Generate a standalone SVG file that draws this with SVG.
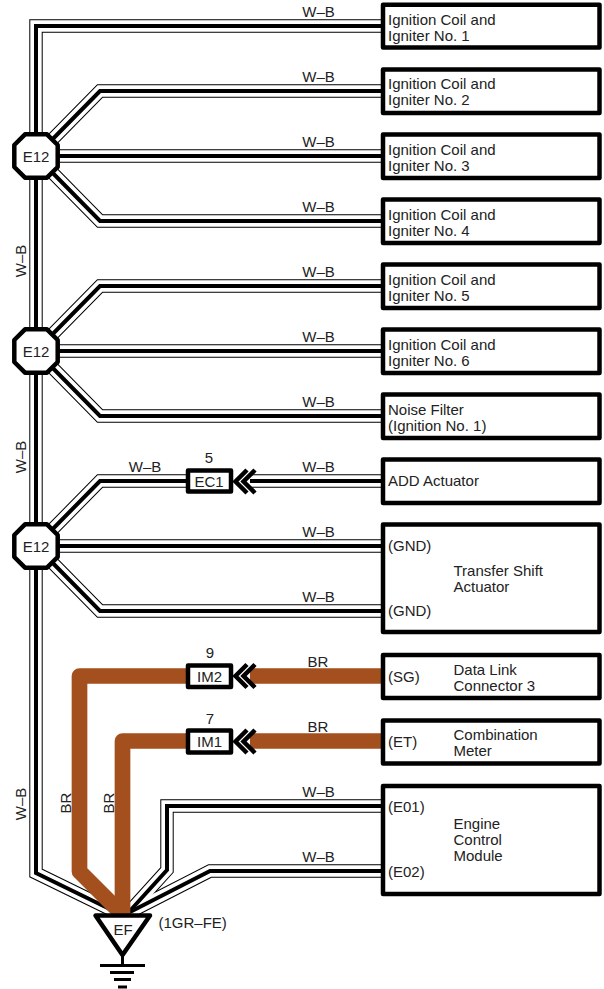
<svg xmlns="http://www.w3.org/2000/svg" width="604" height="989" viewBox="0 0 604 989">
<style>
text{font-family:"Liberation Sans",Arial,sans-serif;font-size:15px;fill:#222}
.m{text-anchor:middle}
.b{fill:#fff;stroke:#000;stroke-width:4.500;stroke-linejoin:round}
.w1{fill:none;stroke:#000;stroke-width:13.400;stroke-linejoin:miter}
.w2{fill:none;stroke:#fff;stroke-width:11.400;stroke-linejoin:miter}
.w3{fill:none;stroke:#000;stroke-width:4;stroke-linejoin:miter}
.br{fill:none;stroke:#a44f1e;stroke-width:15.700;stroke-linejoin:round}
.ch{fill:none;stroke:#000;stroke-width:4.500}
.g{stroke:#000;stroke-width:3;fill:none}
</style>
<defs>
<g id="wires">
<path d="M383 26H36V873L122 915"/>
<path d="M36 156L100 91H383"/>
<path d="M36 156H383"/>
<path d="M36 156L100 221H383"/>
<path d="M36 351L100 286H383"/>
<path d="M36 351H383"/>
<path d="M36 351L100 416H383"/>
<path d="M36 546L100 481H187"/>
<path d="M250 481H383"/>
<path d="M36 546H383"/>
<path d="M36 546L100 611H383"/>
<path d="M383 806H167V870L128 913"/>
<path d="M383 871H210L128 913"/>
</g>
<path id="chev" class="ch" d="M247 -11.500L235.500 0L247 11.500M255 -11.500L243.500 0L255 11.500"/>
<path id="oct" class="b" d="M25 -21.700H47L57.700 -11V11L47 21.700H25L14.300 11V-11Z"/>
</defs>
<g id="connectors">
<use href="#wires" class="w1"/>
<use href="#wires" class="w2"/>
<use href="#wires" class="w3"/>
<path class="br" d="M383 676H250M188 676H79.500V871.500L122 914"/>
<path class="br" d="M383 741H250M188 741H122.500V915"/>
</g>
<g id="labels">
<text class="m" x="318.500" y="17">W–B</text>
<text class="m" x="318.500" y="82">W–B</text>
<text class="m" x="318.500" y="147">W–B</text>
<text class="m" x="318.500" y="212">W–B</text>
<text class="m" x="318.500" y="277">W–B</text>
<text class="m" x="318.500" y="342">W–B</text>
<text class="m" x="318.500" y="407">W–B</text>
<text class="m" x="318.500" y="472">W–B</text>
<text class="m" x="145" y="472">W–B</text>
<text class="m" x="318.500" y="537">W–B</text>
<text class="m" x="318.500" y="602">W–B</text>
<text class="m" x="318" y="667">BR</text>
<text class="m" x="318" y="732">BR</text>
<text class="m" x="318.500" y="797">W–B</text>
<text class="m" x="318.500" y="862">W–B</text>
<text class="m" transform="translate(26 261) rotate(-90)">W–B</text>
<text class="m" transform="translate(26 457) rotate(-90)">W–B</text>
<text class="m" transform="translate(26 804) rotate(-90)">W–B</text>
<text class="m" transform="translate(70.500 803) rotate(-90)">BR</text>
<text class="m" transform="translate(114 803) rotate(-90)">BR</text>
</g>
<g id="e12-1"><use href="#oct" y="156"/><text class="m" x="36" y="161.500">E12</text></g>
<g id="e12-2"><use href="#oct" y="351"/><text class="m" x="36" y="356.500">E12</text></g>
<g id="e12-3"><use href="#oct" y="546"/><text class="m" x="36" y="551.500">E12</text></g>
<g id="ec1"><rect class="b" x="188" y="470.500" width="43" height="21"/><text class="m" x="209" y="486.500">EC1</text><text class="m" x="209" y="463">5</text><use href="#chev" y="481.500"/></g>
<g id="im2"><rect class="b" x="188" y="665.500" width="43" height="21.500"/><text class="m" x="209.500" y="681.500">IM2</text><text class="m" x="210" y="658">9</text><use href="#chev" y="676"/></g>
<g id="im1"><rect class="b" x="188" y="730.500" width="43" height="22"/><text class="m" x="209.500" y="747">IM1</text><text class="m" x="210" y="724">7</text><use href="#chev" y="741.500"/></g>
<g id="box1"><rect class="b" x="383" y="4.700" width="216.500" height="42.800"/><text x="388" y="25">Ignition Coil and</text><text x="388" y="41">Igniter No. 1</text></g>
<g id="box2"><rect class="b" x="383" y="69.500" width="216.500" height="43.500"/><text x="388" y="89">Ignition Coil and</text><text x="388" y="105">Igniter No. 2</text></g>
<g id="box3"><rect class="b" x="383" y="134.500" width="216.500" height="43.500"/><text x="388" y="155">Ignition Coil and</text><text x="388" y="171">Igniter No. 3</text></g>
<g id="box4"><rect class="b" x="383" y="199.500" width="216.500" height="43.500"/><text x="388" y="220">Ignition Coil and</text><text x="388" y="236">Igniter No. 4</text></g>
<g id="box5"><rect class="b" x="383" y="264.500" width="216.500" height="43.500"/><text x="388" y="285">Ignition Coil and</text><text x="388" y="301">Igniter No. 5</text></g>
<g id="box6"><rect class="b" x="383" y="329.500" width="216.500" height="43.500"/><text x="388" y="350">Ignition Coil and</text><text x="388" y="366">Igniter No. 6</text></g>
<g id="box7"><rect class="b" x="383" y="394.500" width="216.500" height="43.500"/><text x="388" y="415">Noise Filter</text><text x="388" y="431">(Ignition No. 1)</text></g>
<g id="box8"><rect class="b" x="383" y="459.500" width="216.500" height="43.500"/><text x="388" y="486">ADD Actuator</text></g>
<g id="box9"><rect class="b" x="383" y="524.500" width="216.500" height="107.500"/><text x="388" y="551">(GND)</text><text x="388" y="616">(GND)</text><text x="453.500" y="576">Transfer Shift</text><text x="453.500" y="592">Actuator</text></g>
<g id="box10"><rect class="b" x="383" y="655" width="216.500" height="43"/><text x="388" y="682">(SG)</text><text x="453.500" y="675">Data Link</text><text x="453.500" y="691">Connector 3</text></g>
<g id="box11"><rect class="b" x="383" y="720.500" width="216.500" height="43"/><text x="388" y="747">(ET)</text><text x="453.500" y="740">Combination</text><text x="453.500" y="756">Meter</text></g>
<g id="box12"><rect class="b" x="383" y="786" width="216.500" height="108"/><text x="388" y="812">(E01)</text><text x="388" y="877">(E02)</text><text x="453.500" y="829">Engine</text><text x="453.500" y="845">Control</text><text x="453.500" y="861">Module</text></g>
<g id="ef"><path class="b" d="M95.500 915.500H150L122.500 955Z"/><text class="m" x="123" y="935">EF</text><text x="158.500" y="928">(1GR–FE)</text>
<path class="g" d="M122.500 955V965M100 965.500H145M110 972.500H134M114 979.500H131M118 987H127"/></g>
</svg>
